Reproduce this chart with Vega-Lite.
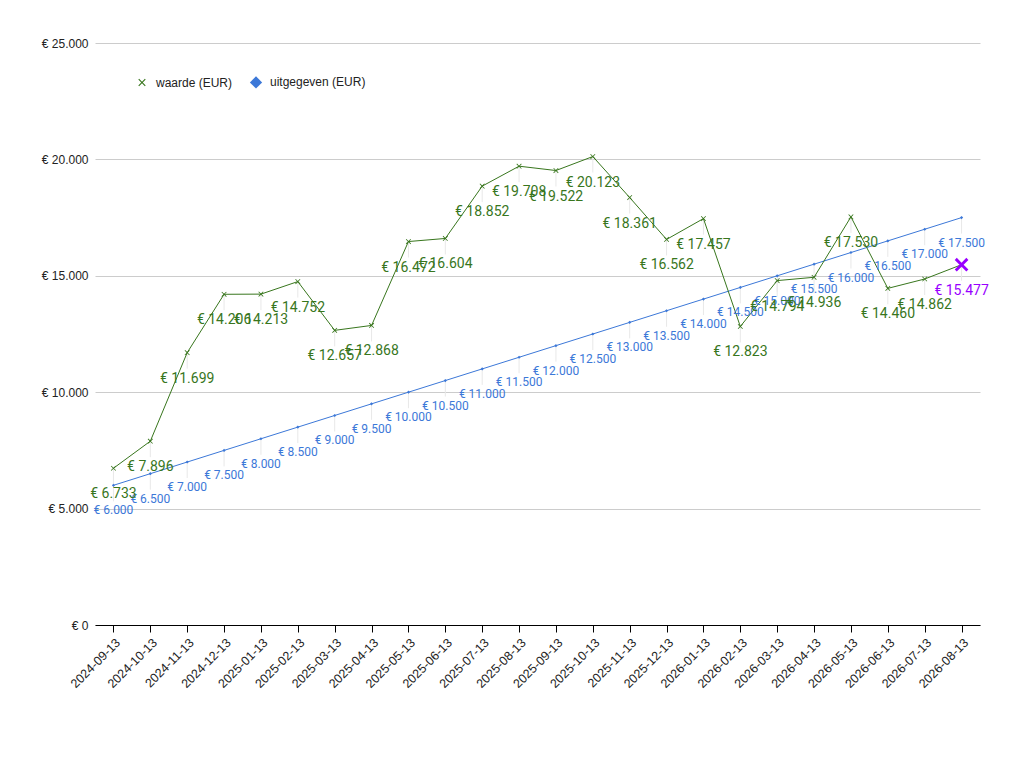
{
  "$schema": "https://vega.github.io/schema/vega-lite/v6.json",
  "width": 885,
  "height": 582,
  "autosize": {"type": "none"},
  "padding": {"left": 95, "top": 43, "right": 54, "bottom": 149},
  "background": "white",
  "data": {
    "values": [
      {"datum": "2024-09-13", "reeks": "waarde (EUR)", "bedrag": 6733},
      {"datum": "2024-10-13", "reeks": "waarde (EUR)", "bedrag": 7896},
      {"datum": "2024-11-13", "reeks": "waarde (EUR)", "bedrag": 11699},
      {"datum": "2024-12-13", "reeks": "waarde (EUR)", "bedrag": 14206},
      {"datum": "2025-01-13", "reeks": "waarde (EUR)", "bedrag": 14213},
      {"datum": "2025-02-13", "reeks": "waarde (EUR)", "bedrag": 14752},
      {"datum": "2025-03-13", "reeks": "waarde (EUR)", "bedrag": 12657},
      {"datum": "2025-04-13", "reeks": "waarde (EUR)", "bedrag": 12868},
      {"datum": "2025-05-13", "reeks": "waarde (EUR)", "bedrag": 16472},
      {"datum": "2025-06-13", "reeks": "waarde (EUR)", "bedrag": 16604},
      {"datum": "2025-07-13", "reeks": "waarde (EUR)", "bedrag": 18852},
      {"datum": "2025-08-13", "reeks": "waarde (EUR)", "bedrag": 19708},
      {"datum": "2025-09-13", "reeks": "waarde (EUR)", "bedrag": 19522},
      {"datum": "2025-10-13", "reeks": "waarde (EUR)", "bedrag": 20123},
      {"datum": "2025-11-13", "reeks": "waarde (EUR)", "bedrag": 18361},
      {"datum": "2025-12-13", "reeks": "waarde (EUR)", "bedrag": 16562},
      {"datum": "2026-01-13", "reeks": "waarde (EUR)", "bedrag": 17457},
      {"datum": "2026-02-13", "reeks": "waarde (EUR)", "bedrag": 12823},
      {"datum": "2026-03-13", "reeks": "waarde (EUR)", "bedrag": 14794},
      {"datum": "2026-04-13", "reeks": "waarde (EUR)", "bedrag": 14936},
      {"datum": "2026-05-13", "reeks": "waarde (EUR)", "bedrag": 17530},
      {"datum": "2026-06-13", "reeks": "waarde (EUR)", "bedrag": 14460},
      {"datum": "2026-07-13", "reeks": "waarde (EUR)", "bedrag": 14862},
      {"datum": "2026-08-13", "reeks": "waarde (EUR)", "bedrag": 15477},
      {"datum": "2024-09-13", "reeks": "uitgegeven (EUR)", "bedrag": 6000},
      {"datum": "2024-10-13", "reeks": "uitgegeven (EUR)", "bedrag": 6500},
      {"datum": "2024-11-13", "reeks": "uitgegeven (EUR)", "bedrag": 7000},
      {"datum": "2024-12-13", "reeks": "uitgegeven (EUR)", "bedrag": 7500},
      {"datum": "2025-01-13", "reeks": "uitgegeven (EUR)", "bedrag": 8000},
      {"datum": "2025-02-13", "reeks": "uitgegeven (EUR)", "bedrag": 8500},
      {"datum": "2025-03-13", "reeks": "uitgegeven (EUR)", "bedrag": 9000},
      {"datum": "2025-04-13", "reeks": "uitgegeven (EUR)", "bedrag": 9500},
      {"datum": "2025-05-13", "reeks": "uitgegeven (EUR)", "bedrag": 10000},
      {"datum": "2025-06-13", "reeks": "uitgegeven (EUR)", "bedrag": 10500},
      {"datum": "2025-07-13", "reeks": "uitgegeven (EUR)", "bedrag": 11000},
      {"datum": "2025-08-13", "reeks": "uitgegeven (EUR)", "bedrag": 11500},
      {"datum": "2025-09-13", "reeks": "uitgegeven (EUR)", "bedrag": 12000},
      {"datum": "2025-10-13", "reeks": "uitgegeven (EUR)", "bedrag": 12500},
      {"datum": "2025-11-13", "reeks": "uitgegeven (EUR)", "bedrag": 13000},
      {"datum": "2025-12-13", "reeks": "uitgegeven (EUR)", "bedrag": 13500},
      {"datum": "2026-01-13", "reeks": "uitgegeven (EUR)", "bedrag": 14000},
      {"datum": "2026-02-13", "reeks": "uitgegeven (EUR)", "bedrag": 14500},
      {"datum": "2026-03-13", "reeks": "uitgegeven (EUR)", "bedrag": 15000},
      {"datum": "2026-04-13", "reeks": "uitgegeven (EUR)", "bedrag": 15500},
      {"datum": "2026-05-13", "reeks": "uitgegeven (EUR)", "bedrag": 16000},
      {"datum": "2026-06-13", "reeks": "uitgegeven (EUR)", "bedrag": 16500},
      {"datum": "2026-07-13", "reeks": "uitgegeven (EUR)", "bedrag": 17000},
      {"datum": "2026-08-13", "reeks": "uitgegeven (EUR)", "bedrag": 17500}
    ]
  },
  "encoding": {
    "x": {
      "field": "datum",
      "type": "ordinal",
      "sort": null,
      "title": null,
      "scale": {"type": "point", "padding": 0.5},
      "axis": {
        "labelAngle": -45,
        "labelFontSize": 12.5,
        "labelColor": "#222222",
        "domainColor": "#000000",
        "tickColor": "#000000",
        "tickSize": 7,
        "labelPadding": 4,
        "grid": false
      }
    },
    "y": {
      "field": "bedrag",
      "type": "quantitative",
      "title": null,
      "scale": {"domain": [0, 25000], "nice": false},
      "axis": {
        "values": [0, 5000, 10000, 15000, 20000, 25000],
        "format": "$,d",
        "domain": false,
        "ticks": false,
        "labelPadding": 7,
        "labelFontSize": 12,
        "labelColor": "#222222",
        "gridColor": "#cccccc"
      }
    }
  },
  "layer": [
    {
      "mark": {"type": "rule", "color": "#e8e8e8", "strokeWidth": 1, "y2Offset": 16},
      "encoding": {"y2": {"field": "bedrag"}}
    },
    {
      "transform": [{"filter": "datum.reeks === 'uitgegeven (EUR)'"}],
      "mark": {"type": "line", "strokeWidth": 1, "color": "#3c78d8"},
      "encoding": {}
    },
    {
      "transform": [{"filter": "datum.reeks === 'waarde (EUR)'"}],
      "mark": {"type": "line", "strokeWidth": 1, "color": "#38761d"},
      "encoding": {}
    },
    {
      "mark": {"type": "point", "filled": true, "opacity": 1},
      "encoding": {
        "color": {
          "field": "reeks",
          "type": "nominal",
          "scale": {"domain": ["waarde (EUR)", "uitgegeven (EUR)"], "range": ["#38761d", "#3c78d8"]},
          "legend": {
            "title": null,
            "orient": "none",
            "legendX": 40,
            "legendY": 32,
            "direction": "horizontal",
            "symbolSize": 150,
            "labelFontSize": 12,
            "labelColor": "#222222",
            "labelOffset": 7,
            "columnPadding": 16,
            "padding": 0
          }
        },
        "shape": {
          "field": "reeks",
          "type": "nominal",
          "scale": {
            "domain": ["waarde (EUR)", "uitgegeven (EUR)"],
            "range": ["M-0.6,-0.47L-0.47,-0.6L0,-0.13L0.47,-0.6L0.6,-0.47L0.13,0L0.6,0.47L0.47,0.6L0,0.13L-0.47,0.6L-0.6,0.47L-0.13,0Z", "diamond"]
          }
        },
        "size": {
          "condition": {"test": "datum.reeks === 'uitgegeven (EUR)'", "value": 10},
          "value": 75
        }
      }
    },
    {
      "transform": [{"filter": "datum.reeks === 'waarde (EUR)' && datum.datum === '2026-08-13'"}],
      "mark": {
        "type": "point",
        "filled": true,
        "opacity": 1,
        "color": "#9900ff",
        "size": 520,
        "shape": "M-0.6,-0.42L-0.42,-0.6L0,-0.18L0.42,-0.6L0.6,-0.42L0.18,0L0.6,0.42L0.42,0.6L0,0.18L-0.42,0.6L-0.6,0.42L-0.18,0Z"
      }
    },
    {
      "transform": [{"filter": "datum.reeks === 'uitgegeven (EUR)'"}],
      "mark": {"type": "text", "font": "Roboto", "fontSize": 12, "dy": 25, "align": "center", "baseline": "middle", "color": "#3c78d8"},
      "encoding": {"text": {"field": "bedrag", "type": "quantitative", "format": "$,d"}}
    },
    {
      "transform": [{"filter": "datum.reeks === 'waarde (EUR)'"}],
      "mark": {"type": "text", "font": "Roboto", "fontSize": 14, "dy": 26, "align": "center", "baseline": "middle"},
      "encoding": {
        "text": {"field": "bedrag", "type": "quantitative", "format": "$,d"},
        "color": {
          "condition": {"test": "datum.datum === '2026-08-13'", "value": "#9900ff"},
          "value": "#38761d"
        }
      }
    }
  ],
  "config": {
    "font": "Liberation Sans",
    "locale": {
      "number": {"decimal": ",", "thousands": ".", "grouping": [3], "currency": ["€ ", ""]}
    },
    "view": {"stroke": null},
    "axis": {"labelFont": "Liberation Sans"},
    "legend": {"labelFont": "Liberation Sans"}
  }
}
